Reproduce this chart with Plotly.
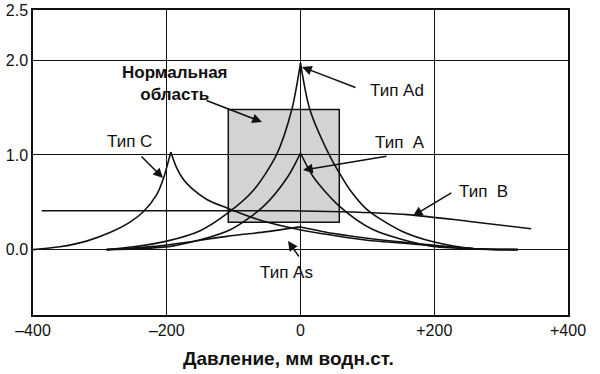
import plotly.graph_objects as go

# ---- data ----
ad_left_x = [-290, -250, -200, -150, -108, -70, -36, -13, 0]
ad_left_y = [0.0, 0.03, 0.09, 0.2, 0.39, 0.63, 1.0, 1.48, 1.97]
ad_right_x = [0, 14, 43, 58, 74, 100, 150, 200, 260, 325]
ad_right_y = [1.97, 1.48, 1.0, 0.81, 0.63, 0.42, 0.2, 0.08, 0.01, 0.0]

a_left_x = [-290, -190, -105, -55, -19, 0]
a_left_y = [0.0, 0.04, 0.21, 0.46, 0.77, 1.02]
a_right_x = [0, 19, 58, 109, 194, 260, 325]
a_right_y = [1.02, 0.77, 0.46, 0.21, 0.04, 0.01, 0.0]

as_left_x = [-290, -210, -110, -50, 0]
as_left_y = [0.0, 0.04, 0.14, 0.19, 0.24]
as_right_x = [0, 50, 100, 194, 260, 325]
as_right_y = [0.24, 0.17, 0.12, 0.05, 0.01, 0.0]

c_left_x = [-400, -360, -320, -285, -255, -235, -215, -205, -194]
c_left_y = [0.0, 0.03, 0.09, 0.18, 0.29, 0.4, 0.58, 0.75, 1.03]
c_right_x = [-194, -185, -175, -163, -140, -110, -60, -1, 50, 100, 150, 200, 260, 320]
c_right_y = [1.03, 0.86, 0.74, 0.65, 0.53, 0.44, 0.31, 0.21, 0.15, 0.1, 0.07, 0.04, 0.01, 0.0]

b_x = [-387, -200, -20, 60, 160, 250, 345]
b_y = [0.41, 0.41, 0.41, 0.40, 0.37, 0.30, 0.22]

normal_x = [-108, 58]
normal_y = [0.29, 1.48]

x_ticks = [-400, -200, 0, 200, 400]
x_tick_text = ["–400", "–200", "0", "+200", "+400"]
y_ticks = [0, 1, 2, 2.53]
y_tick_text = ["0.0", "1.0", "2.0", "2.5"]

# labels: (text, x, y) and arrows: (head x, head y, ax, ay)
labels = [
    ("Тип C", -255, 1.147),
    ("Тип Ad", 144, 1.685),
    ("Тип\u00a0\u00a0A", 149, 1.126),
    ("Тип\u00a0\u00a0B", 273, 0.619),
    ("Тип As", -20.2, -0.236),
]
arrows = [
    (-57.6, 1.348, -57, -22),
    (-205.6, 0.756, -23, -23),
    (2.2, 1.928, 55, 21),
    (3.7, 0.84, 85, -14),
    (168, 0.355, 40, -24),
    (-18.7, 0.091, 12, 17),
]

FONT = "Liberation Sans, Arial, Helvetica, sans-serif"
INK = "#111111"
L, R, T, B = 33, 32, 10, 59
PW, PH = 600 - L - R, 374 - T - B

fig = go.Figure()


def branch(lx, ly, rx, ry):
    xs = list(lx) + [None] + list(rx)
    ys = list(ly) + [None] + list(ry)
    fig.add_trace(go.Scatter(x=xs, y=ys, mode="lines", connectgaps=False,
                             line=dict(color=INK, width=1.6, shape="spline", smoothing=0.8),
                             showlegend=False, hoverinfo="skip"))


branch(ad_left_x, ad_left_y, ad_right_x, ad_right_y)
branch(a_left_x, a_left_y, a_right_x, a_right_y)
branch(as_left_x, as_left_y, as_right_x, as_right_y)
branch(c_left_x, c_left_y, c_right_x, c_right_y)
fig.add_trace(go.Scatter(x=b_x, y=b_y, mode="lines",
                         line=dict(color=INK, width=1.6, shape="spline", smoothing=0.8),
                         showlegend=False, hoverinfo="skip"))

fig.add_shape(type="rect", xref="x", yref="y",
              x0=normal_x[0], x1=normal_x[1], y0=normal_y[0], y1=normal_y[1],
              fillcolor="#d3d3d3", line=dict(color=INK, width=1.5), layer="below")

fig.add_annotation(text="<b>Нормальная<br>область</b>", x=-187.7, y=1.749,
                   xref="x", yref="y", showarrow=False, align="center",
                   xanchor="center", yanchor="middle",
                   font=dict(family=FONT, size=17, color=INK))
for t, x, y in labels:
    fig.add_annotation(text=t, x=x, y=y, xref="x", yref="y", showarrow=False,
                       xanchor="center", yanchor="middle",
                       font=dict(family=FONT, size=17, color=INK))
for x, y, ax, ay in arrows:
    fig.add_annotation(text="", x=x, y=y, ax=ax, ay=ay, xref="x", yref="y",
                       showarrow=True, arrowhead=2, arrowsize=1.3, arrowwidth=1.5,
                       arrowcolor=INK)

fig.add_annotation(text="<b>Давление, мм водн.ст.</b>",
                   x=(288 - L) / PW, y=(374 - B - 358) / PH,
                   xref="paper", yref="paper", showarrow=False,
                   xanchor="center", yanchor="middle",
                   font=dict(family=FONT, size=19, color=INK))

fig.update_xaxes(range=[-400, 400], tickvals=x_ticks, ticktext=x_tick_text,
                 showgrid=True, gridcolor=INK, gridwidth=1.3, zeroline=False,
                 showline=True, linecolor=INK, linewidth=1.5, mirror=True,
                 ticks="", automargin=False,
                 tickfont=dict(family=FONT, size=16, color=INK))
fig.update_yaxes(range=[-0.69, 2.53], tickvals=y_ticks, ticktext=y_tick_text,
                 showgrid=True, gridcolor=INK, gridwidth=1.3, zeroline=False,
                 showline=True, linecolor=INK, linewidth=1.5, mirror=True,
                 ticks="", automargin=False,
                 tickfont=dict(family=FONT, size=16, color=INK))

fig.update_layout(width=600, height=374, margin=dict(l=L, r=R, t=T, b=B, autoexpand=False),
                  paper_bgcolor="white", plot_bgcolor="white",
                  font=dict(family=FONT, color=INK))

fig.write_html("out.html", config={"displayModeBar": False},
               post_script="document.body.style.margin='0';document.body.style.overflow='hidden';")
